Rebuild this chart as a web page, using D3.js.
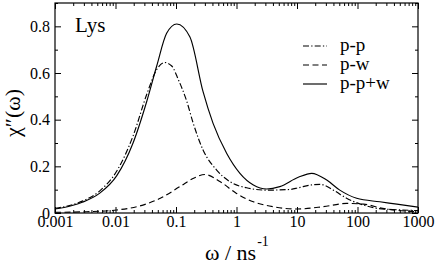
<!DOCTYPE html>
<html><head><meta charset="utf-8">
<script src="https://cdn.jsdelivr.net/npm/d3@7"></script>
<style>body{margin:0;background:#fff}svg{display:block}</style>
</head><body><svg id="c" width="436" height="264" font-family="Liberation Serif"></svg>
<script>
// ---- data ----
const ppOmega = [0.001,0.0018,0.0029,0.0055,0.0105,0.0195,0.033,0.048,0.065,0.085,0.11,0.15,0.193,0.28,0.47,0.78,1.47,3.16,7.7,10.5,17,24,40,66,126,210,450,1000];
const ppValues = [0.02,0.033,0.052,0.095,0.18,0.33,0.51,0.615,0.645,0.63,0.57,0.48,0.384,0.27,0.184,0.134,0.108,0.098,0.101,0.108,0.12,0.123,0.098,0.063,0.034,0.02,0.014,0.01];
const pwOmega = [0.001,0.003,0.0105,0.025,0.055,0.116,0.2,0.3,0.54,1.0,1.9,4,10,27,66,126,260,1000];
const pwValues = [0.003,0.005,0.013,0.03,0.063,0.113,0.15,0.165,0.134,0.084,0.048,0.027,0.017,0.027,0.041,0.038,0.02,0.005];
const totOmega = [0.001,0.0018,0.0029,0.0055,0.0105,0.0195,0.033,0.048,0.07,0.103,0.17,0.28,0.41,0.69,1.14,1.9,3.16,5.2,10.5,17.5,31,51,97,234,447,1000];
const totValues = [0.017,0.03,0.047,0.085,0.16,0.30,0.48,0.63,0.77,0.81,0.754,0.52,0.384,0.255,0.17,0.12,0.103,0.113,0.153,0.17,0.141,0.098,0.063,0.048,0.038,0.025];
const seriesNames = ["p-p","p-w","p-p+w"];
const xTickValues = [0.001,0.01,0.1,1,10,100,1000];
const xTickLabels = ["0.001","0.01","0.1","1","10","100","1000"];
const yTickValues = [0,0.2,0.4,0.6,0.8];
const yTickLabels = ["0","0.2","0.4","0.6","0.8"];
const yMinorValues = [0.1,0.3,0.5,0.7,0.9];
const panelLabel = "Lys";

// ---- layout ----
const FONT = "Liberation Serif";
const L=55, R=418, T=3, B=213;
const svg=d3.select("#c");
const x=d3.scaleLog().domain([0.001,1000]).range([L,R]);
const y=d3.scaleLinear().domain([0,0.9]).range([B,T]);
const xMinor=[];
for(let d=-3; d<3; d++) for(let k=2;k<10;k++) xMinor.push(k*Math.pow(10,d));

const line=d3.line().x(d=>x(d[0])).y(d=>y(d[1])).curve(d3.curveMonotoneX);
svg.append("clipPath").attr("id","clp").append("rect").attr("x",L).attr("y",T).attr("width",R-L).attr("height",B-T);
const g=svg.append("g").attr("clip-path","url(#clp)");
const styles=[{dash:"6,2.2,1.3,2.2"},{dash:"6,3.5"},{dash:null}];
const data=[d3.zip(ppOmega,ppValues),d3.zip(pwOmega,pwValues),d3.zip(totOmega,totValues)];
data.forEach((d,i)=>{
  g.append("path").datum(d).attr("d",line).attr("fill","none").attr("stroke","#000")
   .attr("stroke-width",1.15).attr("stroke-dasharray",styles[i].dash);
});

// axes
function strip(sel){sel.select(".domain").remove();sel.selectAll("line").attr("stroke","#000");sel.attr("font-family",FONT);}
const fmtX=d=>xTickLabels[xTickValues.indexOf(d)];
const fmtY=d=>yTickLabels[yTickValues.indexOf(d)];
const ax=svg.append("g").attr("transform",`translate(0,${B})`).call(d3.axisBottom(x).tickValues(xTickValues).tickSize(-6).tickFormat(fmtX)).call(strip);
ax.attr("font-size",16);
ax.selectAll("text").attr("y",13.5).attr("dy",0).attr("font-family",FONT).attr("font-size",16).attr("fill","#000");
svg.append("g").attr("transform",`translate(0,${B})`).call(d3.axisBottom(x).tickValues(xMinor).tickSize(-3).tickFormat("")).call(strip);
svg.append("g").attr("transform",`translate(0,${T})`).call(d3.axisTop(x).tickValues(xTickValues).tickSize(-6).tickFormat("")).call(strip);
svg.append("g").attr("transform",`translate(0,${T})`).call(d3.axisTop(x).tickValues(xMinor).tickSize(-3).tickFormat("")).call(strip);
const ay=svg.append("g").attr("transform",`translate(${L},0)`).call(d3.axisLeft(y).tickValues(yTickValues).tickSize(-6).tickPadding(5).tickFormat(fmtY)).call(strip);
ay.attr("font-size",16);
ay.selectAll("text").attr("font-family",FONT).attr("font-size",16).attr("fill","#000");
svg.append("g").attr("transform",`translate(${L},0)`).call(d3.axisLeft(y).tickValues(yMinorValues).tickSize(-3).tickFormat("")).call(strip);
svg.append("g").attr("transform",`translate(${R},0)`).call(d3.axisRight(y).tickValues(yTickValues).tickSize(-6).tickFormat("")).call(strip);
svg.append("g").attr("transform",`translate(${R},0)`).call(d3.axisRight(y).tickValues(yMinorValues).tickSize(-3).tickFormat("")).call(strip);
svg.append("rect").attr("x",L).attr("y",T).attr("width",R-L).attr("height",B-T).attr("fill","none").attr("stroke","#000").attr("stroke-width",1.2);

// labels
function txt(xp,yp,size,s){return svg.append("text").attr("x",xp).attr("y",yp).attr("font-family",FONT).attr("font-size",size).text(s);}
txt(75,32,21,panelLabel);
const xl=svg.append("text").attr("x",205).attr("y",260).attr("font-family",FONT).attr("font-size",22);
xl.append("tspan").text("ω / ns");
xl.append("tspan").attr("dy",-14).attr("dx",1).attr("font-size",14).text("-1");
svg.append("text").attr("transform","translate(20,113) rotate(-90)").attr("text-anchor","middle").attr("font-family",FONT).attr("font-size",22).text("χ″(ω)");

// legend
const legY=[46,65,84];
seriesNames.forEach((n,i)=>{
  svg.append("line").attr("x1",303).attr("x2",327).attr("y1",legY[i]).attr("y2",legY[i]).attr("stroke","#000").attr("stroke-width",1.15).attr("stroke-dasharray",styles[i].dash);
  txt(340,legY[i]+5,19,n);
});
</script></body></html>
